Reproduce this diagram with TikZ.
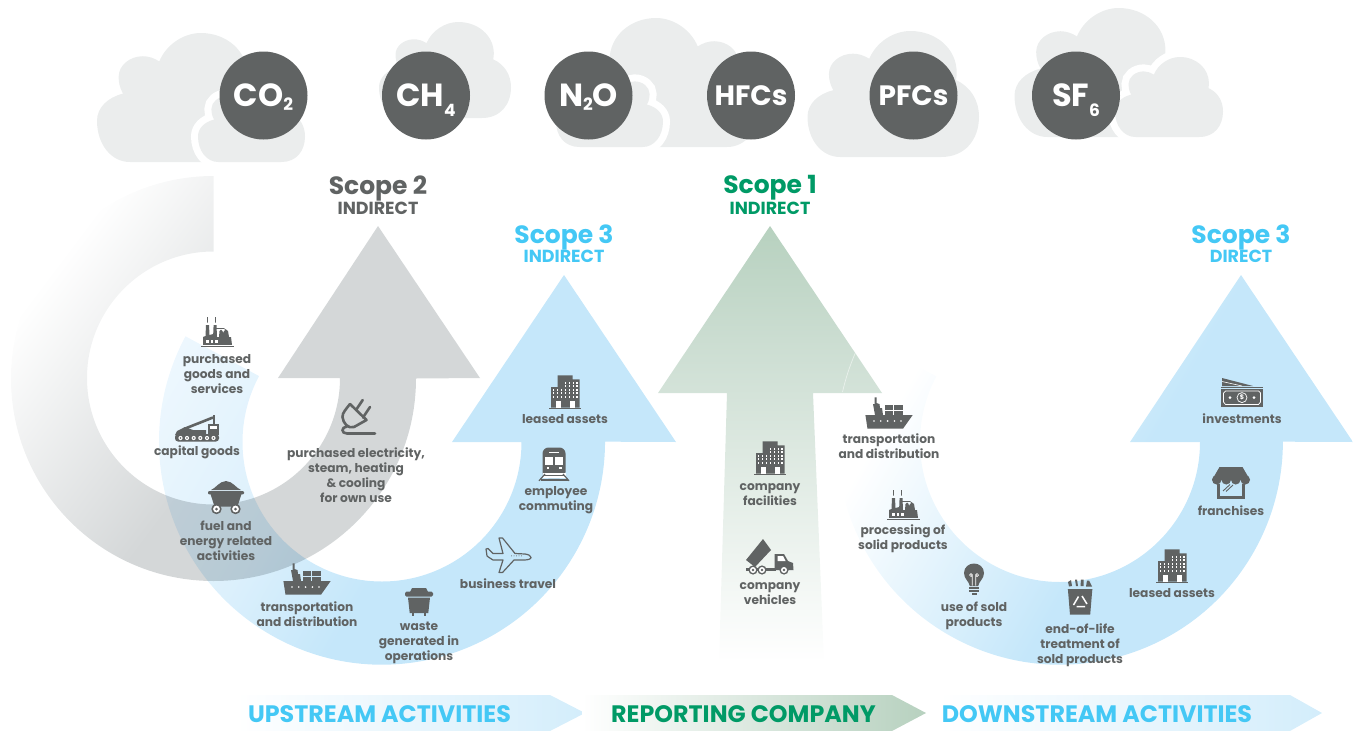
\documentclass[tikz,border=0pt]{standalone}
\usepackage{fontspec}
\setmainfont{Poppins}
\definecolor{iconc}{HTML}{606363}
\definecolor{cloudc}{HTML}{EBEDED}
\definecolor{gfull}{HTML}{D4D7D8}
\definecolor{bfull}{HTML}{C5E7FA}
\definecolor{bstart}{HTML}{EFF8FE}
\definecolor{bmid}{HTML}{DCF0FC}
\definecolor{tblue}{HTML}{44C8F5}
\definecolor{tgreen}{HTML}{009A66}
\definecolor{gtop}{HTML}{B7D1BF}
\definecolor{gmid}{HTML}{CBDDD1}
\definecolor{bandb}{HTML}{D3EDFB}
\pgfdeclarehorizontalshading{grayfade}{100bp}{color(0bp)=(white); color(25bp)=(white); color(52bp)=(gfull); color(100bp)=(gfull)}
\pgfdeclarehorizontalshading{blueleft}{100bp}{color(0bp)=(bstart); color(22bp)=(bstart); color(40bp)=(bmid); color(52bp)=(bfull); color(100bp)=(bfull)}
\pgfdeclarehorizontalshading{blueright}{100bp}{color(0bp)=(white); color(30bp)=(white); color(54bp)=(bfull); color(100bp)=(bfull)}
\pgfdeclareverticalshading{greenfade}{100bp}{color(0bp)=(white); color(25bp)=(white); color(62bp)=(gmid); color(75bp)=(gtop); color(100bp)=(gtop)}
\newcommand\fsz[2]{\fontsize{#1}{#2}\selectfont}
\newcommand\cloudshape{(0.19,1) .. controls (.08,1) and (0,.86) .. (0,.68) .. controls (0,.58) and (.06,.5) .. (.15,.47) .. controls (.13,.42) and (.125,.38) .. (.125,.34) .. controls (.125,.25) and (.19,.18) .. (.265,.18) .. controls (.3,.18) and (.33,.195) .. (.36,.22) .. controls (.4,.09) and (.5,0) .. (.6,0) .. controls (.75,0) and (.87,.14) .. (.87,.33) .. controls (.87,.35) and (.868,.37) .. (.866,.39) .. controls (.95,.44) and (1,.55) .. (1,.68) .. controls (1,.86) and (.92,1) .. (.78,1) -- cycle}
\newcommand\cloudat[5]{\path[#1,shift={(#2,#3)},xscale=#4,yscale=#5] \cloudshape;}
\newcommand\lowsub[2]{\raisebox{#1}[0pt][0pt]{\fsz{17}{17}\bfseries #2}}
\tikzset{
 cloudplain/.style={fill=cloudc},
 cloudcut/.style={fill=cloudc,preaction={draw=white,line width=14pt}},
 gas/.style={circle,fill=iconc,text=white,minimum size=88pt,inner sep=0pt,font=\fsz{32}{32}\bfseries},
 lbl/.style={text=iconc,align=center,inner sep=0pt,font=\fsz{12.2}{15}\bfseries},
 scopet/.style={inner sep=0pt,font=\fsz{25}{25}\bfseries},
 scopes/.style={inner sep=0pt,font=\fsz{17.5}{18}\bfseries},
 bandt/.style={inner sep=0pt,font=\fsz{23.8}{24}\bfseries},
 ic/.style={fill=iconc,draw=none},
 cut/.style={fill=white,draw=none},
 icofactory/.pic={
  \fill[ic] (-16.5,13.6) rectangle (16.5,15);
  \fill[ic] (-14,12.8) -- (-14,5) -- (-11.5,4) -- (-11,-7) -- (-8,-7) -- (-7.5,3) -- (-3.8,2) -- (-3.4,-7) -- (-.5,-7) -- (0,5) -- (2,5) -- (2.5,-1) .. controls (3,-3) and (5,-3) .. (5.5,-1) -- (6,1) -- (7,-1) .. controls (8,-3) and (10,-3) .. (11,-1) -- (12,5) -- (14,5) -- (15,12.8) -- cycle;
  \draw[iconc,line width=.6pt] (-1,-3.5) -- (7,-3.5) -- (9,-2);
  \foreach \q in {-11,-6.5,-2}{\fill[cut] (\q,7.5) rectangle (\q+2.6,10.5);}
  \foreach \q in {-9.5,-1.5}{\draw[iconc,line width=.9pt] (\q,-15) .. controls (\q-1.8,-13) and (\q+1.8,-12) .. (\q,-9.5);}
 },
 icobuilding/.pic={
  \fill[ic] (-15.7,15.6) rectangle (16,16.7);
  \fill[ic] (-14,15.6) -- (-14,-5) -- (-7.3,-5) -- (-7.3,-16.7) -- (7.7,-16.7) -- (7.7,-12.7) -- (14.7,-12.7) -- (14.7,15.6) -- cycle;
  \foreach \r in {-2.2,1.3,4.8}{\foreach \c in {-11.5,-7.5,-3.5,.5,4.5,8.5,12}{\fill[cut] (\c-.9,\r-.9) rectangle (\c+.9,\r+.9);}}
  \foreach \r in {-9.2,-5.7}{\foreach \c in {.5,4.5,8.5,12}{\fill[cut] (\c-.9,\r-.9) rectangle (\c+.9,\r+.9);}}
  \fill[cut] (-9,9) rectangle (-4,15.6);
  \fill[cut] (5,9) rectangle (10,15.6);
 },
 icoship/.pic={
  \fill[ic] (-23.6,2) -- (-14,2) -- (-16,-9) -- (-14.5,-9) -- (-14.5,-15.7) -- (-12.5,-15.7) -- (-12.5,-10) -- (-9.5,-9) -- (-9,-5) -- (-7,-5) -- (-6,2) -- (23.7,2) -- (14,15.7) -- (-21.5,15.7) -- cycle;
  \fill[ic] (-4.5,-8.3) rectangle (4.2,-3.4);
  \fill[ic] (5.2,-8.3) rectangle (14,-3.4);
  \fill[ic] (-4.5,-2.4) rectangle (4.2,2.5);
  \fill[ic] (5.2,-2.4) rectangle (14,2.5);
  \foreach \q in {-15,-8.2,-1.4,5.4,12}{\fill[cut] (\q,8) circle (.9);}
 },
 icocrane/.pic={
  \fill[ic,rounded corners=3pt] (-22,6) rectangle (22,13.5);
  \foreach \q in {-16.5,-10,-3.3,3.3,10,16.5}{\fill[cut] (\q,10) circle (2.1);\fill[ic] (\q,10) circle (.9);}
  \fill[ic] (-22,7) -- (-20,3) -- (-12,-1) -- (-4,2) -- (9,2) -- (9,7) -- cycle;
  \draw[iconc,line width=2.6pt] (-13,1) -- (16,-10.5);
  \draw[iconc,line width=1.2pt] (17,-13) -- (17,-4);
  \fill[ic] (10.5,-4) rectangle (21.5,7);
  \fill[cut] (12.5,-2.2) rectangle (20,1.2);
 },
 icocart/.pic={
  \fill[ic] (-15,-7) .. controls (-10,-9) and (-7,-15.5) .. (0,-16) .. controls (7,-15.5) and (10,-9) .. (15,-7) -- cycle;
  \fill[ic,rounded corners=1pt] (-18,-6) rectangle (18,-2.6);
  \fill[ic] (-15.5,-3) -- (15.5,-3) -- (11.5,9.5) -- (-11.5,9.5) -- cycle;
  \foreach \q in {-9.5,9.5}{\fill[ic] (\q,12) circle (5.2);\fill[cut] (\q,12) circle (3.4);\fill[ic] (\q,12) circle (1.5);}
 },
 icobin/.pic={
  \fill[ic] (-7,-14) -- (7,-14) -- (9,-10) -- (-9,-10) -- cycle;
  \fill[ic,rounded corners=1.5pt] (-14,-10.5) rectangle (14,-5.5);
  \fill[ic] (-11,-4.5) -- (11,-4.5) -- (9.3,11) -- (-9.3,11) -- cycle;
  \fill[ic] (-7.3,10) rectangle (-5.3,14.3);
  \fill[ic] (5.3,10) rectangle (7.3,14.3);
 },
 icoplane/.pic={
  \draw[iconc,line width=1.2pt,line join=round] (-22,-6) -- (-20,-6.5) -- (-15,-1.5) -- (-5,-1.5) -- (-9,-17) -- (-5.5,-17) -- (7,-1.5) -- (17,-1) .. controls (21,-.5) and (23,1) .. (23,2.5) .. controls (23,4) and (20,5) .. (16,5) -- (6,5) -- (-5.5,17.5) -- (-9,17.5) -- (-5,5) -- (-15,5) .. controls (-18,3) and (-20,2) .. (-21,1) -- cycle;
  \foreach \q in {3.5,6,8.5,11,13.5}{\fill[ic] (\q,.8) circle (.5);}
 },
 icotrain/.pic={
  \fill[ic,rounded corners=6pt] (-11.5,-16.5) rectangle (11.5,14);
  \fill[cut] (-11.5,8.5) rectangle (11.5,14);
  \fill[cut] (-9,-7) rectangle (-1,0.5);
  \fill[cut] (1,-7) rectangle (9,0.5);
  \fill[cut] (-5,-12.5) rectangle (5,-10.7);
  \fill[cut] (-7.5,3) rectangle (-5,5);
  \fill[cut] (5,3) rectangle (7.5,5);
  \draw[iconc,line width=1.2pt] (-9,10) -- (-15,16.8) (9,10) -- (15,16.8);
  \fill[ic] (-13.5,15.3) rectangle (13.5,16.5);
  \fill[ic] (-10,11.2) rectangle (10,12.2);
 },
 icoplug/.pic={
  \draw[iconc,line width=2.6pt,line cap=round,line join=round] (-8,-13) -- (8.5,3) -- (-4,10) .. controls (-10,12) and (-15,6) .. (-15.5,0) .. controls (-16,-4) and (-11,-9) .. (-8,-13);
  \draw[iconc,line width=2.6pt,line cap=round] (-2,-7) -- (4.7,-17) (5,0.5) -- (12,-10);
  \draw[iconc,line width=2.6pt,line cap=round] (-11,9.5) .. controls (-17,10) and (-17,16.5) .. (-11,16.5) -- (17,16.5);
 },
 icodump/.pic={
  \fill[ic] (-24,3) -- (-7,-18) -- (1,-7) -- (-15,10) -- cycle;
  \fill[ic] (4.5,-3) -- (14,-3) -- (18,4) -- (23,6) -- (23.5,13) -- (4.5,13) -- cycle;
  \fill[cut] (7.5,-1) -- (13,-1) -- (15.5,4) -- (7.5,4) -- cycle;
  \fill[ic] (-24,10.5) rectangle (6,13.5);
  \foreach \q in {-17,-8,14}{\fill[ic] (\q,13) circle (4.6);\fill[cut] (\q,13) circle (3);\fill[ic] (\q,13) circle (1.4);}
 },
 icobulb/.pic={
  \fill[ic] (-4.2,7) .. controls (-5,2) and (-10,0) .. (-10,-6) .. controls (-10,-12) and (-5,-15.5) .. (0,-15.5) .. controls (5,-15.5) and (10,-12) .. (10,-6) .. controls (10,0) and (5,2) .. (4.2,7) -- cycle;
  \fill[ic] (-5,8) rectangle (5,10);
  \fill[ic] (-5,11) rectangle (5,13);
  \fill[ic] (-2.5,13.5) rectangle (2.5,15.5);
  \draw[white,line width=.7pt] (-1.7,6.5) -- (-1.7,-4) arc[start angle=0,end angle=360,radius=1.4] (1.7,6.5) -- (1.7,-4) arc[start angle=180,end angle=-180,radius=1.4];
 },
 icorecycle/.pic={
  \fill[ic] (-12.3,-8) -- (12.5,-8) -- (12.2,-6.5) -- (10.2,17.7) -- (-10,17.7) -- (-12,-6.5) -- cycle;
  \fill[ic] (-12,-15) -- (-9,-17) -- (-8,-11) -- (-11,-10.5) -- cycle;
  \fill[ic] (-5,-17.5) -- (-3,-17.5) -- (-2,-11) -- (-4,-11) -- cycle;
  \fill[ic] (1,-17.5) -- (3.5,-17.5) -- (3.5,-11) -- (0.5,-11) -- cycle;
  \fill[ic] (7,-16.5) -- (9,-16.5) -- (12,-10.5) -- (6,-10.5) -- cycle;
  \draw[white,line width=1.5pt] (-1.5,-.5) -- (-6.5,8) (-3.5,9.5) -- (5,9.5) (7,7) -- (2,-1);
 },
 icostore/.pic={
  \draw[iconc,line width=3.2pt] (-12.2,1) -- (-12.2,14.6) -- (12.2,14.6) -- (12.2,1);
  \fill[ic] (-11.5,-16) -- (11.5,-16) -- (19,-3) -- (-19,-3) -- cycle;
  \foreach \q in {-14.25,-4.75,4.75,14.25}{\fill[ic] (\q,-3.2) circle (4.75);}
  \draw[iconc,line width=.9pt] (-8,8) -- (-1,1.5) (-5,8.5) -- (2,2);
 },
 icomoney/.pic={
  \fill[ic] (-20,-15) -- (11,-7) -- (-20,-7) -- cycle;
  \draw[white,line width=.6pt] (-20,-11.5) -- (0,-7);
  \fill[ic] (-21,-6.2) rectangle (21,-5);
  \fill[ic] (-21,-4.3) rectangle (21,14.3);
  \draw[white,line width=.7pt] (-16.5,-2) -- (16.5,-2) -- (18.5,0) -- (18.5,9) -- (16.5,11.5) -- (-16.5,11.5) -- (-18.5,9) -- (-18.5,0) -- cycle;
  \draw[white,line width=.7pt] (0,4.6) circle (5);
  \foreach \q in {-12,12}{\fill[cut] (\q,4.6) circle (1.5);}
  \node[text=white,inner sep=0pt,font=\fsz{6.5}{7}\bfseries] (dollar) at (0,4.6) {\$};
 },
}
\begin{document}
\begin{tikzpicture}[x=1pt,y=-1pt]
\useasboundingbox (0,0) rectangle (1353,731);
% clouds
\cloudat{cloudplain}{97}{33}{173}{129}
\cloudat{cloudcut}{198}{82}{107}{80}
\cloudat{cloudplain}{379}{22}{132}{96}
\cloudat{cloudplain}{760}{18}{-173}{129}
\cloudat{cloudcut}{663}{67}{-107}{80}
\cloudat{cloudplain}{807.5}{31}{171.5}{126}
\cloudat{cloudplain}{1014.5}{8}{173.5}{129}
\cloudat{cloudcut}{1115}{57}{108}{80}
% gas circles
\node[gas] (co2) at (263.5,95.5) {CO\lowsub{-3.5pt}{2}};
\node[gas] (ch4) at (426,95.5) {CH\lowsub{-10pt}{4}};
\node[gas] (n2o) at (588.5,95.5) {N\lowsub{-3.5pt}{2}O};
\node[gas,font=\fsz{28}{28}\bfseries] (hfc) at (751,95.5) {HFCs};
\node[gas,font=\fsz{28}{28}\bfseries] (pfc) at (913.5,95.5) {PFCs};
\node[gas] (sf6) at (1076,95.5) {SF\lowsub{-10pt}{6}};
% arrows
\path[shading=grayfade,shading angle=-37] (213.5,176) arc[start angle=270,end angle=0,radius=202.5] -- (480,378) -- (378,226) -- (278,378) -- (340,378) arc[start angle=0,end angle=270,radius=126.5] -- cycle;
\path[shading=greenfade] (658,393) -- (770,226) -- (882,393) -- (813,393) -- (824,662) -- (719,662) -- (727,393) -- cycle;
\begin{scope}[blend mode=multiply]
\path[shading=blueleft,shading angle=-30] (185.5,336.3) arc[start angle=208.2,end angle=0,radius=223] -- (676,442) -- (564,275) -- (452,442) -- (521.5,442) arc[start angle=0,end angle=208.2,radius=139.5] -- cycle;
\path[shading=blueright,shading angle=-30] (863,337) arc[start angle=208,end angle=0,radius=223] -- (1353,442) -- (1241,275) -- (1130,442) -- (1200,442) arc[start angle=0,end angle=208,radius=140] -- cycle;
\end{scope}
\draw[white,opacity=.55,line width=.7pt] (842.5,392) arc[start angle=192.9,end angle=203.5,radius=223.5];
% bands
\path[left color=white,right color=bandb] (237,695) -- (550,695) -- (585,713) -- (550,731) -- (237,731) -- cycle;
\path[left color=white,right color=gtop] (582,695) -- (892,695) -- (926,713) -- (892,731) -- (582,731) -- cycle;
\path[left color=white,right color=bandb] (939,695) -- (1290,695) -- (1322,713) -- (1290,731) -- (939,731) -- cycle;
\node[bandt,text=tblue] (up) at (379.5,714.5) {UPSTREAM ACTIVITIES};
\node[bandt,text=tgreen] (rep) at (743.5,714.5) {REPORTING COMPANY};
\node[bandt,text=tblue] (down) at (1097,714.5) {DOWNSTREAM ACTIVITIES};
% titles
\node[scopet,text=iconc] (s2) at (378,188) {Scope 2};
\node[scopes,text=iconc] (s2b) at (378,208.5) {INDIRECT};
\node[scopet,text=tblue] (s3a) at (564,237) {Scope 3};
\node[scopes,text=tblue] (s3ab) at (564,256.5) {INDIRECT};
\node[scopet,text=tgreen] (s1) at (770,188) {Scope 1};
\node[scopes,text=tgreen] (s1b) at (770,208.5) {INDIRECT};
\node[scopet,text=tblue] (s3b) at (1241,237) {Scope 3};
\node[scopes,text=tblue] (s3bb) at (1241,256.5) {DIRECT};
% icons
\pic at (217,332) {icofactory};
\pic at (197,428) {icocrane};
\pic at (226,497) {icocart};
\pic at (358,417) {icoplug};
\pic at (307,579) {icoship};
\pic at (419,602) {icobin};
\pic at (508,555) {icoplane};
\pic at (554,464) {icotrain};
\pic at (565,392) {icobuilding};
\pic at (770,458) {icobuilding};
\pic at (770,557) {icodump};
\pic at (889,413) {icoship};
\pic at (903,505) {icofactory};
\pic at (974,579) {icobulb};
\pic at (1080,597) {icorecycle};
\pic at (1172,566) {icobuilding};
\pic at (1231,483) {icostore};
\pic at (1242,393) {icomoney};
% labels
\node[lbl] (l1) at (217,374) {purchased\\goods and\\services};
\node[lbl] (l2) at (197,452) {capital goods};
\node[lbl] (l3) at (356,475.5) {purchased electricity,\\steam, heating\\\& cooling\\for own use};
\node[lbl] (l4) at (226,541) {fuel and\\energy related\\activities};
\node[lbl] (l5) at (307,614.5) {transportation\\and distribution};
\node[lbl] (l6) at (419,643) {waste\\generated in\\operations};
\node[lbl] (l7) at (508,584) {business travel};
\node[lbl] (l8) at (556,500.5) {employee\\commuting};
\node[lbl] (l9) at (565,419) {leased assets};
\node[lbl] (l10) at (770,495) {company\\facilities};
\node[lbl] (l11) at (770,594) {company\\vehicles};
\node[lbl] (l12) at (889,446) {transportation\\and distribution};
\node[lbl] (l13) at (903,539) {processing of\\solid products};
\node[lbl] (l14) at (974,616) {use of sold\\products};
\node[lbl] (l15) at (1080,645) {end-of-life\\treatment of\\sold products};
\node[lbl] (l16) at (1172,593) {leased assets};
\node[lbl] (l17) at (1231,510.5) {franchises};
\node[lbl] (l18) at (1242,419) {investments};
\end{tikzpicture}
\end{document}
